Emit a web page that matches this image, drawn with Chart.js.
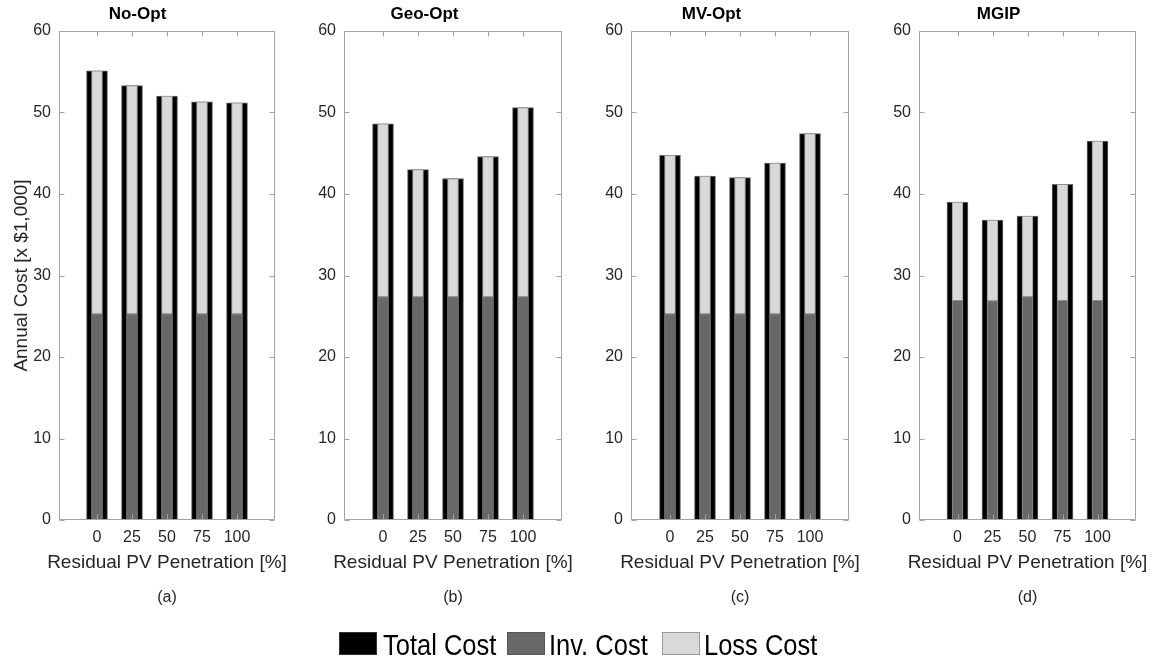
<!DOCTYPE html>
<html>
<head>
<meta charset="utf-8">
<script src="https://cdn.jsdelivr.net/npm/chart.js@4.4.1/dist/chart.umd.min.js"></script>
<style>
html,body{margin:0;padding:0;background:#fff;width:1162px;height:662px;overflow:hidden;font-family:'Liberation Sans',Arial,sans-serif;}
canvas{position:absolute;top:0;}
.sw{position:absolute;top:632px;width:38px;height:23px;box-sizing:border-box;border:1px solid #666;}
.lt{position:absolute;top:630px;font-size:30px;line-height:30px;color:#000;white-space:nowrap;transform:scaleX(0.85);transform-origin:0 0;}
.xt{position:absolute;top:551px;width:300px;text-align:center;font-size:19px;line-height:22px;color:#262626;white-space:nowrap;}
</style>
</head>
<body>
<canvas id="c0" width="287" height="662" style="left:0px"></canvas>
<canvas id="c1" width="287" height="662" style="left:287px"></canvas>
<canvas id="c2" width="287" height="662" style="left:574px"></canvas>
<canvas id="c3" width="301" height="662" style="left:861px"></canvas>
<div id="xt0" class="xt"></div>
<div id="xt1" class="xt"></div>
<div id="xt2" class="xt"></div>
<div id="xt3" class="xt"></div>
<div class="sw" style="left:339px;background:#000;border-color:#333"></div>
<div class="lt" style="left:383px">Total Cost</div>
<div class="sw" style="left:507px;background:#686868;border-color:#555"></div>
<div class="lt" style="left:549px">Inv. Cost</div>
<div class="sw" style="left:662px;background:#d9d9d9;border-color:#999"></div>
<div class="lt" style="left:704px">Loss Cost</div>
<script>
// ---- data ----
const categories = [0, 25, 50, 75, 100];
const yTickValues = [0, 10, 20, 30, 40, 50, 60];
const panelTitles = ['No-Opt', 'Geo-Opt', 'MV-Opt', 'MGIP'];
const panelTags = ['(a)', '(b)', '(c)', '(d)'];
const seriesNames = ['Total Cost', 'Inv. Cost', 'Loss Cost'];
const yAxisTitle = 'Annual Cost [x $1,000]';
const xAxisTitle = 'Residual PV Penetration [%]';

const totalNoOpt = [55.1, 53.3, 52.0, 51.3, 51.2];
const invNoOpt   = [25.3, 25.3, 25.3, 25.3, 25.3];
const lossNoOpt  = [29.8, 28.0, 26.7, 26.0, 25.9];

const totalGeoOpt = [48.6, 43.0, 41.9, 44.6, 50.6];
const invGeoOpt   = [27.4, 27.4, 27.4, 27.4, 27.4];
const lossGeoOpt  = [21.2, 15.6, 14.5, 17.2, 23.2];

const totalMVOpt = [44.75, 42.2, 42.0, 43.8, 47.4];
const invMVOpt   = [25.3, 25.3, 25.3, 25.3, 25.3];
const lossMVOpt  = [19.45, 16.9, 16.7, 18.5, 22.1];

const totalMGIP = [39.0, 36.8, 37.3, 41.2, 46.5];
const invMGIP   = [26.95, 26.9, 27.4, 26.95, 26.95];
const lossMGIP  = [12.05, 9.9, 9.9, 14.25, 19.55];

const panelTotals = [totalNoOpt, totalGeoOpt, totalMVOpt, totalMGIP];
const panelInv = [invNoOpt, invGeoOpt, invMVOpt, invMGIP];
const panelLoss = [lossNoOpt, lossGeoOpt, lossMVOpt, lossMGIP];

// ---- layout (pixels) ----
const layoutCfg = [
  { canvasLeft: 0,   yAxisWidth: 59, padRight: 12, halfRange: 77.14 },
  { canvasLeft: 287, yAxisWidth: 57, padRight: 12, halfRange: 77.86 },
  { canvasLeft: 574, yAxisWidth: 57, padRight: 12, halfRange: 77.86 },
  { canvasLeft: 861, yAxisWidth: 58, padRight: 26, halfRange: 77.5 }
];

const FONT = "'Liberation Sans', Arial, sans-serif";
const TEXT = '#262626';

const framePlugin = {
  id: 'frame',
  afterDatasetsDraw(chart) {
    const { ctx, chartArea, scales } = chart;
    const L = Math.round(chartArea.left) + 0.5;
    const R = Math.round(chartArea.right) - 0.5;
    const T = Math.round(chartArea.top) + 0.5;
    const B = Math.round(chartArea.bottom) - 0.5;
    ctx.save();
    ctx.strokeStyle = '#a3a3a3';
    ctx.lineWidth = 1;
    ctx.beginPath();
    ctx.rect(L, T, R - L, B - T);
    const tl = 5;
    scales.y.ticks.forEach(t => {
      const py = Math.round(scales.y.getPixelForValue(t.value)) + 0.5;
      ctx.moveTo(L, py); ctx.lineTo(L + tl, py);
      ctx.moveTo(R, py); ctx.lineTo(R - tl, py);
    });
    scales.x.ticks.forEach(t => {
      const px = Math.round(scales.x.getPixelForValue(t.value)) + 0.5;
      ctx.moveTo(px, T); ctx.lineTo(px, T + tl);
      ctx.moveTo(px, B); ctx.lineTo(px, B - tl);
    });
    ctx.stroke();
    ctx.restore();
  }
};

for (let p = 0; p < 4; p++) {
  const cfg = layoutCfg[p];
  const mid = (categories[0] + categories[categories.length - 1]) / 2;
  const chart = new Chart(document.getElementById('c' + p), {
    type: 'bar',
    data: {
      labels: categories,
      datasets: [
        { label: seriesNames[1], data: panelInv[p], stack: 'parts', backgroundColor: '#686868', borderColor: '#8f8f8f', borderWidth: 1, barThickness: 11, grouped: false },
        { label: seriesNames[2], data: panelLoss[p], stack: 'parts', backgroundColor: '#d9d9d9', borderColor: '#8f8f8f', borderWidth: 1, barThickness: 11, grouped: false },
        { label: seriesNames[0], data: panelTotals[p], stack: 'total', backgroundColor: '#000000', borderColor: '#6a6a6a', borderWidth: 1, barThickness: 21, grouped: false }
      ]
    },
    options: {
      responsive: false,
      animation: false,
      devicePixelRatio: 1,
      layout: { padding: { left: 0, right: cfg.padRight, top: 0, bottom: 49.8 } },
      plugins: {
        legend: { display: false },
        tooltip: { enabled: false },
        title: {
          display: true, text: panelTitles[p], color: '#000',
          font: { family: FONT, size: 17, weight: 'bold' },
          padding: { top: 4, bottom: 6.6 }
        },
        subtitle: {
          display: true, text: panelTags[p], position: 'bottom', color: TEXT, fullSize: false,
          font: { family: FONT, size: 16 },
          padding: { top: 10, bottom: 5 }
        }
      },
      scales: {
        x: {
          type: 'linear', offset: false,
          min: mid - cfg.halfRange, max: mid + cfg.halfRange,
          grid: { display: false, drawTicks: false },
          border: { display: false },
          afterBuildTicks: s => { s.ticks = categories.map(v => ({ value: v })); },
          afterFit: s => { s.height = 58; },
          ticks: { autoSkip: false, maxRotation: 0, padding: 8, color: TEXT, font: { family: FONT, size: 16 }, callback: v => String(v) },
          title: { display: false }
        },
        y: {
          stacked: true, min: 0, max: 60,
          grid: { display: false, drawTicks: false },
          border: { display: false },
          afterBuildTicks: s => { s.ticks = yTickValues.map(v => ({ value: v })); },
          afterFit: s => { s.width = cfg.yAxisWidth; },
          ticks: { padding: 8, color: TEXT, font: { family: FONT, size: 16 } },
          title: { display: p === 0, text: yAxisTitle, color: TEXT, font: { family: FONT, size: 19 }, padding: { top: 10, bottom: 0 } }
        }
      }
    },
    plugins: [framePlugin]
  });
  // x-axis title as HTML text, centred under the plot area
  const xt = document.getElementById('xt' + p);
  xt.textContent = xAxisTitle;
  const centre = cfg.canvasLeft + (chart.chartArea.left + chart.chartArea.right) / 2;
  xt.style.left = (centre - 150) + 'px';
}
</script>
</body>
</html>
